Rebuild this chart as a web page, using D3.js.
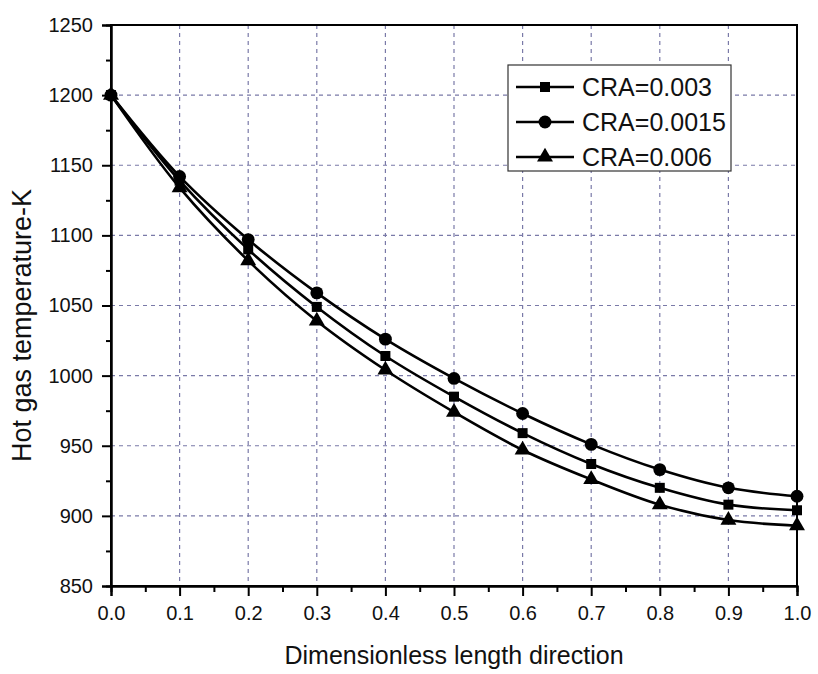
<!DOCTYPE html>
<html>
<head>
<meta charset="utf-8">
<script src="https://cdn.jsdelivr.net/npm/d3@7"></script>
<style>
  body { margin: 0; background: #fff; }
  svg { display: block; font-family: "Liberation Sans", Arial, sans-serif; }
</style>
</head>
<body>
<div id="vis"></div>
<script>
const FRAME_WIDTH = 818;
const FRAME_HEIGHT = 674;
const MARGINS = { left: 111, right: 21, top: 25, bottom: 88 };

const VIS_WIDTH = FRAME_WIDTH - MARGINS.left - MARGINS.right;
const VIS_HEIGHT = FRAME_HEIGHT - MARGINS.top - MARGINS.bottom;

// data
const xValues = [0, 0.1, 0.2, 0.3, 0.4, 0.5, 0.6, 0.7, 0.8, 0.9, 1.0];
const cra003 = [1200, 1139, 1090, 1049, 1014, 985, 959, 937, 920, 908, 904];
const cra0015 = [1200, 1142, 1097, 1059, 1026, 998, 973, 951, 933, 920, 914];
const cra006 = [1200, 1134, 1082, 1039, 1004, 974, 947, 926, 908, 897, 893];
const seriesNames = ["CRA=0.003", "CRA=0.0015", "CRA=0.006"];
const seriesSymbols = [d3.symbolSquare, d3.symbolCircle, d3.symbolTriangle];
const xTicks = [0, 0.1, 0.2, 0.3, 0.4, 0.5, 0.6, 0.7, 0.8, 0.9, 1.0];
const yTicks = [850, 900, 950, 1000, 1050, 1100, 1150, 1200, 1250];

const series = [cra003, cra0015, cra006];
const symbolSizes = [100, 130, 110];

const FRAME = d3.select("#vis")
  .append("svg")
  .attr("width", FRAME_WIDTH)
  .attr("height", FRAME_HEIGHT);

const X_SCALE = d3.scaleLinear().domain([0, 1]).range([0, VIS_WIDTH]);
const Y_SCALE = d3.scaleLinear().domain([850, 1250]).range([VIS_HEIGHT, 0]);

const g = FRAME.append("g")
  .attr("transform", "translate(" + MARGINS.left + "," + MARGINS.top + ")");

// grid
g.append("g")
  .selectAll("line")
  .data(xTicks.slice(1, -1))
  .enter()
  .append("line")
  .attr("x1", (d) => X_SCALE(d))
  .attr("x2", (d) => X_SCALE(d))
  .attr("y1", 0)
  .attr("y2", VIS_HEIGHT)
  .attr("stroke", "#7a7aa8")
  .attr("stroke-width", 1.2)
  .attr("stroke-dasharray", "4,4");

g.append("g")
  .selectAll("line")
  .data(yTicks.slice(1, -1))
  .enter()
  .append("line")
  .attr("x1", 0)
  .attr("x2", VIS_WIDTH)
  .attr("y1", (d) => Y_SCALE(d))
  .attr("y2", (d) => Y_SCALE(d))
  .attr("stroke", "#7a7aa8")
  .attr("stroke-width", 1.2)
  .attr("stroke-dasharray", "4,4");

// frame
g.append("rect")
  .attr("x", 0)
  .attr("y", 0)
  .attr("width", VIS_WIDTH)
  .attr("height", VIS_HEIGHT)
  .attr("fill", "none")
  .attr("stroke", "#000")
  .attr("stroke-width", 2);

// minor ticks
const xMinor = d3.range(0.05, 1, 0.1);
const yMinor = d3.range(875, 1250, 50);

g.append("g")
  .attr("transform", "translate(0," + VIS_HEIGHT + ")")
  .call(d3.axisBottom(X_SCALE).tickValues(xTicks).tickFormat(d3.format(".1f"))
    .tickSize(10).tickPadding(10));
g.append("g")
  .attr("transform", "translate(0," + VIS_HEIGHT + ")")
  .call(d3.axisBottom(X_SCALE).tickValues(xMinor).tickFormat("").tickSize(6));

g.append("g")
  .call(d3.axisLeft(Y_SCALE).tickValues(yTicks).tickFormat(d3.format("d"))
    .tickSize(9).tickPadding(9));
g.append("g")
  .call(d3.axisLeft(Y_SCALE).tickValues(yMinor).tickFormat("").tickSize(5));

g.selectAll(".domain").attr("stroke-width", 2);
g.selectAll(".tick line").attr("stroke-width", 2);
g.selectAll(".tick text").attr("font-size", "20px").attr("fill", "#111")
  .attr("font-family", "'Liberation Sans', Arial, sans-serif");

// lines
const line = d3.line()
  .x((d, i) => X_SCALE(xValues[i]))
  .y((d) => Y_SCALE(d))
  .curve(d3.curveCatmullRom);

series.forEach((s, k) => {
  g.append("path")
    .datum(s)
    .attr("d", line)
    .attr("fill", "none")
    .attr("stroke", "#000")
    .attr("stroke-width", 2.6);

  g.selectAll(".pt" + k)
    .data(s)
    .enter()
    .append("path")
    .attr("class", "pt" + k)
    .attr("d", d3.symbol().type(seriesSymbols[k]).size(symbolSizes[k]))
    .attr("transform", (d, i) => "translate(" + X_SCALE(xValues[i]) + "," + Y_SCALE(d) + ")")
    .attr("fill", "#000");
});

// legend
const legend = FRAME.append("g").attr("transform", "translate(508,65)");
legend.append("rect")
  .attr("width", 223)
  .attr("height", 106)
  .attr("fill", "#fff")
  .attr("stroke", "#333")
  .attr("stroke-width", 1.2);

seriesNames.forEach((name, k) => {
  const yy = 22 + k * 35;
  legend.append("line")
    .attr("x1", 8).attr("x2", 66)
    .attr("y1", yy).attr("y2", yy)
    .attr("stroke", "#000").attr("stroke-width", 2.6);
  legend.append("path")
    .attr("d", d3.symbol().type(seriesSymbols[k]).size(symbolSizes[k]))
    .attr("transform", "translate(37," + yy + ")")
    .attr("fill", "#000");
  legend.append("text")
    .attr("x", 74)
    .attr("y", yy)
    .attr("dy", "0.36em")
    .attr("font-size", "25px")
    .attr("fill", "#111")
    .text(name);
});

// axis titles
FRAME.append("text")
  .attr("x", MARGINS.left + VIS_WIDTH / 2)
  .attr("y", 664)
  .attr("text-anchor", "middle")
  .attr("font-size", "25px")
  .attr("fill", "#111")
  .text("Dimensionless length direction");

FRAME.append("text")
  .attr("transform", "translate(31," + (MARGINS.top + VIS_HEIGHT / 2 + 20) + ") rotate(-90)")
  .attr("text-anchor", "middle")
  .attr("font-size", "27px")
  .attr("fill", "#111")
  .text("Hot gas temperature-K");
</script>
</body>
</html>
